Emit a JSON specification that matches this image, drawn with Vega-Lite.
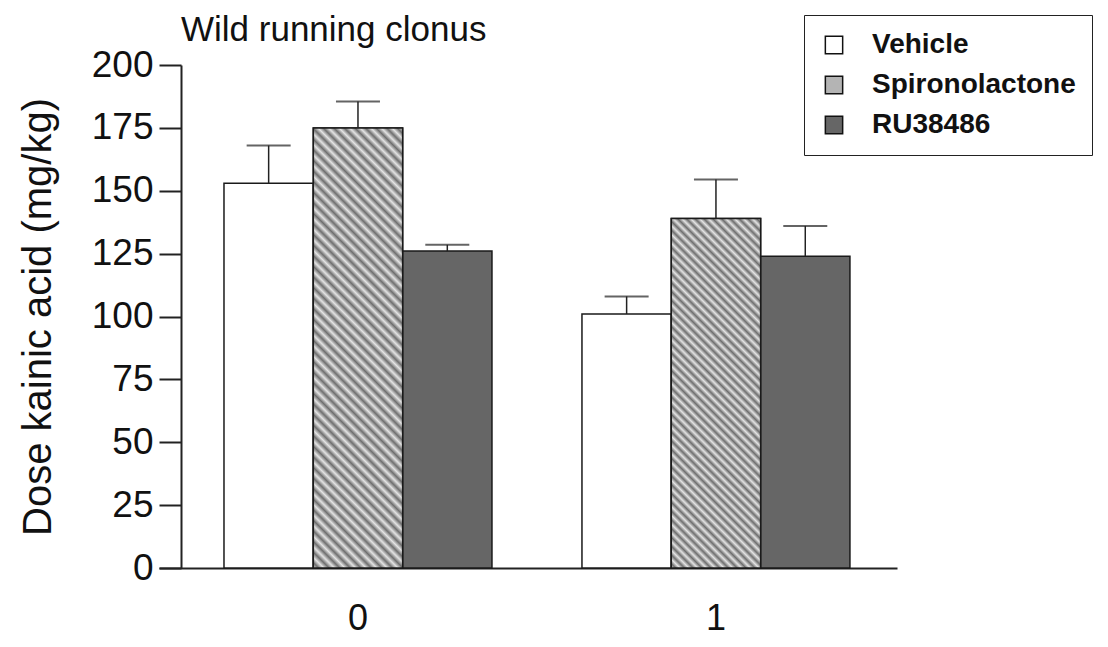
{
  "$schema": "https://vega.github.io/schema/vega-lite/v6.json",
  "width": 738,
  "height": 503,
  "autosize": "none",
  "padding": {"left": 159, "top": 65, "right": 211, "bottom": 79},
  "background": "white",
  "config": {
    "view": {"stroke": null},
    "font": "Liberation Sans"
  },
  "title": {
    "text": "Wild running clonus",
    "anchor": "start",
    "frame": "group",
    "dx": 22,
    "offset": -33,
    "font": "Liberation Sans",
    "fontSize": 35,
    "fontWeight": "normal",
    "color": "#111111"
  },
  "data": {
    "values": [
      {"dose": "0", "treatment": "Vehicle", "mean": 153, "upper": 168},
      {"dose": "0", "treatment": "Spironolactone", "mean": 175, "upper": 185.5},
      {"dose": "0", "treatment": "RU38486", "mean": 126, "upper": 128.5},
      {"dose": "1", "treatment": "Vehicle", "mean": 101, "upper": 108},
      {"dose": "1", "treatment": "Spironolactone", "mean": 139, "upper": 154.5},
      {"dose": "1", "treatment": "RU38486", "mean": 124, "upper": 136}
    ]
  },
  "encoding": {
    "x": {
      "field": "dose",
      "type": "nominal",
      "scale": {"paddingInner": 0.2514, "paddingOuter": 0.1565, "align": 0.58},
      "axis": {
        "title": null,
        "ticks": false,
        "labelAngle": 0,
        "labelFont": "Liberation Sans",
        "labelFontSize": 36,
        "labelColor": "#111111",
        "labelPadding": 33,
        "domainColor": "#222222",
        "domainWidth": 2
      }
    },
    "xOffset": {
      "field": "treatment",
      "type": "nominal",
      "sort": ["Vehicle", "Spironolactone", "RU38486"],
      "scale": {"paddingInner": 0, "paddingOuter": 0}
    }
  },
  "layer": [
    {
      "mark": {"type": "bar", "stroke": "#1a1a1a", "strokeWidth": 1.5},
      "encoding": {
        "y": {
          "field": "mean",
          "type": "quantitative",
          "scale": {"domain": [0, 200], "nice": false},
          "axis": {
            "values": [0, 25, 50, 75, 100, 125, 150, 175, 200],
            "grid": false,
            "offset": -22,
            "tickSize": 22,
            "tickWidth": 2,
            "tickColor": "#222222",
            "domainColor": "#222222",
            "domainWidth": 2,
            "labelFont": "Liberation Sans",
            "labelFontSize": 37,
            "labelColor": "#111111",
            "labelPadding": 6,
            "title": "Dose kainic acid (mg/kg)",
            "titleFont": "Liberation Sans",
            "titleFontSize": 40,
            "titleFontWeight": "normal",
            "titleColor": "#111111",
            "titlePadding": 33
          }
        },
        "fill": {
          "field": "treatment",
          "type": "nominal",
          "sort": ["Vehicle", "Spironolactone", "RU38486"],
          "scale": {
            "domain": ["Vehicle", "Spironolactone", "RU38486"],
            "range": ["#ffffff", "#b4b4b4", "#666666"]
          },
          "legend": {
            "title": null,
            "orient": "none",
            "legendX": 645,
            "legendY": -50,
            "symbolType": "square",
            "symbolSize": 300,
            "symbolStrokeColor": "#111111",
            "symbolStrokeWidth": 1.5,
            "labelFont": "Liberation Sans",
            "labelFontSize": 28,
            "labelFontWeight": "bold",
            "labelLimit": 400,
            "labelColor": "#111111",
            "labelOffset": 24,
            "padding": 16,
            "rowPadding": 12,
            "strokeColor": "#222222",
            "fillColor": "#ffffff"
          }
        }
      }
    },
    {
      "transform": [{"filter": "datum.treatment === 'Spironolactone' && datum.dose === '0'"}],
      "mark": {
        "type": "bar",
        "stroke": "#1a1a1a",
        "strokeWidth": 1.5,
        "fill": {
          "gradient": "linear",
          "x1": 0, "y1": 1, "x2": 0.235, "y2": -0.155,
          "stops": [
            {"offset": 0.00, "color": "#e4e4e4"}, {"offset": 0.01, "color": "#6e6e6e"},
            {"offset": 0.02, "color": "#e4e4e4"}, {"offset": 0.03, "color": "#6e6e6e"},
            {"offset": 0.04, "color": "#e4e4e4"}, {"offset": 0.05, "color": "#6e6e6e"},
            {"offset": 0.06, "color": "#e4e4e4"}, {"offset": 0.07, "color": "#6e6e6e"},
            {"offset": 0.08, "color": "#e4e4e4"}, {"offset": 0.09, "color": "#6e6e6e"},
            {"offset": 0.10, "color": "#e4e4e4"}, {"offset": 0.11, "color": "#6e6e6e"},
            {"offset": 0.12, "color": "#e4e4e4"}, {"offset": 0.13, "color": "#6e6e6e"},
            {"offset": 0.14, "color": "#e4e4e4"}, {"offset": 0.15, "color": "#6e6e6e"},
            {"offset": 0.16, "color": "#e4e4e4"}, {"offset": 0.17, "color": "#6e6e6e"},
            {"offset": 0.18, "color": "#e4e4e4"}, {"offset": 0.19, "color": "#6e6e6e"},
            {"offset": 0.20, "color": "#e4e4e4"}, {"offset": 0.21, "color": "#6e6e6e"},
            {"offset": 0.22, "color": "#e4e4e4"}, {"offset": 0.23, "color": "#6e6e6e"},
            {"offset": 0.24, "color": "#e4e4e4"}, {"offset": 0.25, "color": "#6e6e6e"},
            {"offset": 0.26, "color": "#e4e4e4"}, {"offset": 0.27, "color": "#6e6e6e"},
            {"offset": 0.28, "color": "#e4e4e4"}, {"offset": 0.29, "color": "#6e6e6e"},
            {"offset": 0.30, "color": "#e4e4e4"}, {"offset": 0.31, "color": "#6e6e6e"},
            {"offset": 0.32, "color": "#e4e4e4"}, {"offset": 0.33, "color": "#6e6e6e"},
            {"offset": 0.34, "color": "#e4e4e4"}, {"offset": 0.35, "color": "#6e6e6e"},
            {"offset": 0.36, "color": "#e4e4e4"}, {"offset": 0.37, "color": "#6e6e6e"},
            {"offset": 0.38, "color": "#e4e4e4"}, {"offset": 0.39, "color": "#6e6e6e"},
            {"offset": 0.40, "color": "#e4e4e4"}, {"offset": 0.41, "color": "#6e6e6e"},
            {"offset": 0.42, "color": "#e4e4e4"}, {"offset": 0.43, "color": "#6e6e6e"},
            {"offset": 0.44, "color": "#e4e4e4"}, {"offset": 0.45, "color": "#6e6e6e"},
            {"offset": 0.46, "color": "#e4e4e4"}, {"offset": 0.47, "color": "#6e6e6e"},
            {"offset": 0.48, "color": "#e4e4e4"}, {"offset": 0.49, "color": "#6e6e6e"},
            {"offset": 0.50, "color": "#e4e4e4"}, {"offset": 0.51, "color": "#6e6e6e"},
            {"offset": 0.52, "color": "#e4e4e4"}, {"offset": 0.53, "color": "#6e6e6e"},
            {"offset": 0.54, "color": "#e4e4e4"}, {"offset": 0.55, "color": "#6e6e6e"},
            {"offset": 0.56, "color": "#e4e4e4"}, {"offset": 0.57, "color": "#6e6e6e"},
            {"offset": 0.58, "color": "#e4e4e4"}, {"offset": 0.59, "color": "#6e6e6e"},
            {"offset": 0.60, "color": "#e4e4e4"}, {"offset": 0.61, "color": "#6e6e6e"},
            {"offset": 0.62, "color": "#e4e4e4"}, {"offset": 0.63, "color": "#6e6e6e"},
            {"offset": 0.64, "color": "#e4e4e4"}, {"offset": 0.65, "color": "#6e6e6e"},
            {"offset": 0.66, "color": "#e4e4e4"}, {"offset": 0.67, "color": "#6e6e6e"},
            {"offset": 0.68, "color": "#e4e4e4"}, {"offset": 0.69, "color": "#6e6e6e"},
            {"offset": 0.70, "color": "#e4e4e4"}, {"offset": 0.71, "color": "#6e6e6e"},
            {"offset": 0.72, "color": "#e4e4e4"}, {"offset": 0.73, "color": "#6e6e6e"},
            {"offset": 0.74, "color": "#e4e4e4"}, {"offset": 0.75, "color": "#6e6e6e"},
            {"offset": 0.76, "color": "#e4e4e4"}, {"offset": 0.77, "color": "#6e6e6e"},
            {"offset": 0.78, "color": "#e4e4e4"}, {"offset": 0.79, "color": "#6e6e6e"},
            {"offset": 0.80, "color": "#e4e4e4"}, {"offset": 0.81, "color": "#6e6e6e"},
            {"offset": 0.82, "color": "#e4e4e4"}, {"offset": 0.83, "color": "#6e6e6e"},
            {"offset": 0.84, "color": "#e4e4e4"}, {"offset": 0.85, "color": "#6e6e6e"},
            {"offset": 0.86, "color": "#e4e4e4"}, {"offset": 0.87, "color": "#6e6e6e"},
            {"offset": 0.88, "color": "#e4e4e4"}, {"offset": 0.89, "color": "#6e6e6e"},
            {"offset": 0.90, "color": "#e4e4e4"}, {"offset": 0.91, "color": "#6e6e6e"},
            {"offset": 0.92, "color": "#e4e4e4"}, {"offset": 0.93, "color": "#6e6e6e"},
            {"offset": 0.94, "color": "#e4e4e4"}, {"offset": 0.95, "color": "#6e6e6e"},
            {"offset": 0.96, "color": "#e4e4e4"}, {"offset": 0.97, "color": "#6e6e6e"},
            {"offset": 0.98, "color": "#e4e4e4"}, {"offset": 0.99, "color": "#6e6e6e"},
            {"offset": 1.00, "color": "#e4e4e4"}
          ]
        }
      },
      "encoding": {
        "y": {"field": "mean", "type": "quantitative"}
      }
    },
    {
      "transform": [{"filter": "datum.treatment === 'Spironolactone' && datum.dose === '1'"}],
      "mark": {
        "type": "bar",
        "stroke": "#1a1a1a",
        "strokeWidth": 1.5,
        "fill": {
          "gradient": "linear",
          "x1": 0, "y1": 1, "x2": 0.301, "y2": -0.179,
          "stops": [
            {"offset": 0.00, "color": "#e4e4e4"}, {"offset": 0.01, "color": "#6e6e6e"},
            {"offset": 0.02, "color": "#e4e4e4"}, {"offset": 0.03, "color": "#6e6e6e"},
            {"offset": 0.04, "color": "#e4e4e4"}, {"offset": 0.05, "color": "#6e6e6e"},
            {"offset": 0.06, "color": "#e4e4e4"}, {"offset": 0.07, "color": "#6e6e6e"},
            {"offset": 0.08, "color": "#e4e4e4"}, {"offset": 0.09, "color": "#6e6e6e"},
            {"offset": 0.10, "color": "#e4e4e4"}, {"offset": 0.11, "color": "#6e6e6e"},
            {"offset": 0.12, "color": "#e4e4e4"}, {"offset": 0.13, "color": "#6e6e6e"},
            {"offset": 0.14, "color": "#e4e4e4"}, {"offset": 0.15, "color": "#6e6e6e"},
            {"offset": 0.16, "color": "#e4e4e4"}, {"offset": 0.17, "color": "#6e6e6e"},
            {"offset": 0.18, "color": "#e4e4e4"}, {"offset": 0.19, "color": "#6e6e6e"},
            {"offset": 0.20, "color": "#e4e4e4"}, {"offset": 0.21, "color": "#6e6e6e"},
            {"offset": 0.22, "color": "#e4e4e4"}, {"offset": 0.23, "color": "#6e6e6e"},
            {"offset": 0.24, "color": "#e4e4e4"}, {"offset": 0.25, "color": "#6e6e6e"},
            {"offset": 0.26, "color": "#e4e4e4"}, {"offset": 0.27, "color": "#6e6e6e"},
            {"offset": 0.28, "color": "#e4e4e4"}, {"offset": 0.29, "color": "#6e6e6e"},
            {"offset": 0.30, "color": "#e4e4e4"}, {"offset": 0.31, "color": "#6e6e6e"},
            {"offset": 0.32, "color": "#e4e4e4"}, {"offset": 0.33, "color": "#6e6e6e"},
            {"offset": 0.34, "color": "#e4e4e4"}, {"offset": 0.35, "color": "#6e6e6e"},
            {"offset": 0.36, "color": "#e4e4e4"}, {"offset": 0.37, "color": "#6e6e6e"},
            {"offset": 0.38, "color": "#e4e4e4"}, {"offset": 0.39, "color": "#6e6e6e"},
            {"offset": 0.40, "color": "#e4e4e4"}, {"offset": 0.41, "color": "#6e6e6e"},
            {"offset": 0.42, "color": "#e4e4e4"}, {"offset": 0.43, "color": "#6e6e6e"},
            {"offset": 0.44, "color": "#e4e4e4"}, {"offset": 0.45, "color": "#6e6e6e"},
            {"offset": 0.46, "color": "#e4e4e4"}, {"offset": 0.47, "color": "#6e6e6e"},
            {"offset": 0.48, "color": "#e4e4e4"}, {"offset": 0.49, "color": "#6e6e6e"},
            {"offset": 0.50, "color": "#e4e4e4"}, {"offset": 0.51, "color": "#6e6e6e"},
            {"offset": 0.52, "color": "#e4e4e4"}, {"offset": 0.53, "color": "#6e6e6e"},
            {"offset": 0.54, "color": "#e4e4e4"}, {"offset": 0.55, "color": "#6e6e6e"},
            {"offset": 0.56, "color": "#e4e4e4"}, {"offset": 0.57, "color": "#6e6e6e"},
            {"offset": 0.58, "color": "#e4e4e4"}, {"offset": 0.59, "color": "#6e6e6e"},
            {"offset": 0.60, "color": "#e4e4e4"}, {"offset": 0.61, "color": "#6e6e6e"},
            {"offset": 0.62, "color": "#e4e4e4"}, {"offset": 0.63, "color": "#6e6e6e"},
            {"offset": 0.64, "color": "#e4e4e4"}, {"offset": 0.65, "color": "#6e6e6e"},
            {"offset": 0.66, "color": "#e4e4e4"}, {"offset": 0.67, "color": "#6e6e6e"},
            {"offset": 0.68, "color": "#e4e4e4"}, {"offset": 0.69, "color": "#6e6e6e"},
            {"offset": 0.70, "color": "#e4e4e4"}, {"offset": 0.71, "color": "#6e6e6e"},
            {"offset": 0.72, "color": "#e4e4e4"}, {"offset": 0.73, "color": "#6e6e6e"},
            {"offset": 0.74, "color": "#e4e4e4"}, {"offset": 0.75, "color": "#6e6e6e"},
            {"offset": 0.76, "color": "#e4e4e4"}, {"offset": 0.77, "color": "#6e6e6e"},
            {"offset": 0.78, "color": "#e4e4e4"}, {"offset": 0.79, "color": "#6e6e6e"},
            {"offset": 0.80, "color": "#e4e4e4"}, {"offset": 0.81, "color": "#6e6e6e"},
            {"offset": 0.82, "color": "#e4e4e4"}, {"offset": 0.83, "color": "#6e6e6e"},
            {"offset": 0.84, "color": "#e4e4e4"}, {"offset": 0.85, "color": "#6e6e6e"},
            {"offset": 0.86, "color": "#e4e4e4"}, {"offset": 0.87, "color": "#6e6e6e"},
            {"offset": 0.88, "color": "#e4e4e4"}, {"offset": 0.89, "color": "#6e6e6e"},
            {"offset": 0.90, "color": "#e4e4e4"}, {"offset": 0.91, "color": "#6e6e6e"},
            {"offset": 0.92, "color": "#e4e4e4"}, {"offset": 0.93, "color": "#6e6e6e"},
            {"offset": 0.94, "color": "#e4e4e4"}, {"offset": 0.95, "color": "#6e6e6e"},
            {"offset": 0.96, "color": "#e4e4e4"}, {"offset": 0.97, "color": "#6e6e6e"},
            {"offset": 0.98, "color": "#e4e4e4"}, {"offset": 0.99, "color": "#6e6e6e"},
            {"offset": 1.00, "color": "#e4e4e4"}
          ]
        }
      },
      "encoding": {
        "y": {"field": "mean", "type": "quantitative"}
      }
    },
    {
      "mark": {"type": "rule", "stroke": "#222222", "strokeWidth": 1.5},
      "encoding": {
        "y": {"field": "mean", "type": "quantitative"},
        "y2": {"field": "upper"}
      }
    },
    {
      "mark": {"type": "tick", "color": "#222222", "thickness": 2, "size": 44},
      "encoding": {
        "y": {"field": "upper", "type": "quantitative"}
      }
    }
  ]
}
